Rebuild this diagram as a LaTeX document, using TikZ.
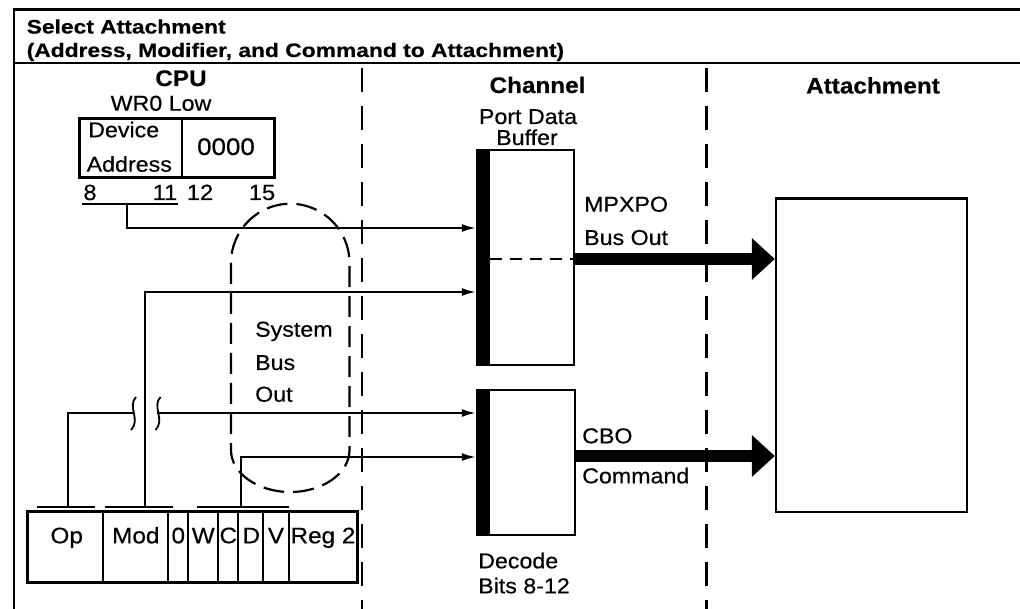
\documentclass[tikz,border=0pt]{standalone}
\usepackage{fontspec}
\setmainfont[FakeStretch=1.08, FakeBold=0.4]{Liberation Sans}
\newfontfamily\titlefont[FakeStretch=1.17, FakeBold=0.4]{Liberation Sans}
\usetikzlibrary{arrows.meta}
\begin{document}
\begin{tikzpicture}[x=1pt,y=-1pt,
  txt/.style={inner sep=0pt, anchor=base west, font=\fontsize{21.5}{24}\selectfont},
  ctxt/.style={inner sep=0pt, anchor=base, font=\fontsize{21.5}{24}\selectfont},
  hdr/.style={inner sep=0pt, anchor=base, font=\bfseries\fontsize{22.5}{24}\selectfont},
  ttl/.style={inner sep=0pt, anchor=base west, font=\titlefont\bfseries\fontsize{19.5}{22}\selectfont},
  bitlbl/.style={inner sep=0pt, anchor=base, font=\fontsize{22}{24}\selectfont},
  fldlbl/.style={inner sep=0pt, anchor=base, font=\fontsize{22.5}{24}\selectfont},
  regbox/.style={draw, line width=3pt, inner sep=0pt},
  box/.style={draw, line width=2.5pt, inner sep=0pt},
  wire/.style={line width=2pt},
  arr/.style={line width=2pt, -{Latex[length=14pt,width=8pt]}},
  bus/.style={line width=12pt, -{Triangle[length=23pt,width=42pt,line width=0pt]}},
  divider/.style={line width=2.5pt, dash pattern=on 24pt off 14pt},
  oval/.style={line width=2.2pt, dash pattern=on 21pt off 9pt},
  squig/.style={line width=1.8pt}
]
\useasboundingbox (0,0) rectangle (1020,609);

% frame
\draw[line width=2.7pt] (14,9.5) -- (1022,9.5);
\draw[line width=2pt] (14,63) -- (1022,63);
\draw[line width=2.5pt] (14,8.2) -- (14,612);

% title
\node[ttl] (t1) at (26.5,33.5) {Select Attachment};
\node[ttl] (t2) at (26.5,57) {(Address, Modifier, and Command to Attachment)};

% column dividers
\draw[divider] (362,68) -- (362,612);
\draw[divider] (706.5,68) -- (706.5,612);

% headers
\node[hdr] (hcpu) at (181,86) {CPU};
\node[hdr] (hch) at (537.5,93) {Channel};
\node[hdr] (hat) at (873,93.5) {Attachment};

% WR0 register
\node[ctxt] (wrlbl) at (161,110.7) {WR0 Low};
\node[regbox, minimum width=195pt, minimum height=59.5pt] (wr0) at (176.7,148) {};
\draw[line width=2.5pt] (182,118) -- (182,178);
\node[txt] (dev) at (88,137.3) {Device};
\node[txt] (addr) at (86.5,171.7) {Address};
\node[inner sep=0pt, anchor=base, font=\fontsize{24}{26}\selectfont] (zeros) at (226,155) {0000};
\node[bitlbl] (b8) at (90,200) {8};
\node[bitlbl] (b11) at (165,200) {11};
\node[bitlbl] (b12) at (200,200) {12};
\node[bitlbl] (b15) at (262,200) {15};
\draw[wire] (82,204) -- (178,204);
\coordinate (u1) at (127,204);

% instruction
\node[regbox, minimum width=330pt, minimum height=71pt] (instr) at (192.3,546.5) {};
\foreach \xx in {103.3,168.3,188.3,218.3,238.3,263.3,289.3}
  \draw[line width=2pt] (\xx,511) -- (\xx,582);
\node[fldlbl] (fop) at (66.7,543.3) {Op};
\node[fldlbl] (fmod) at (135.8,543.3) {Mod};
\node[fldlbl] (f0) at (178.3,543.3) {0};
\node[fldlbl] (fw) at (203.3,543.3) {W};
\node[fldlbl] (fc) at (228.3,543.3) {C};
\node[fldlbl] (fd) at (251.3,543.3) {D};
\node[fldlbl] (fv) at (276,543.3) {V};
\node[fldlbl] (freg) at (323,543.3) {Reg 2};
\draw[wire] (37,506.7) -- (95,506.7);
\draw[wire] (105,506.7) -- (173,506.7);
\draw[wire] (197,506.7) -- (289,506.7);
\coordinate (bop) at (68.3,506.7);
\coordinate (bmod) at (145,506.7);
\coordinate (bw) at (240.7,506.7);

% system bus out oval
\draw[oval] (231,263) -- (231,450) arc[start angle=180,end angle=360,x radius=59.25pt,y radius=42pt]
  -- (349.5,263) arc[start angle=0,end angle=180,radius=59.25pt] -- cycle;
\node[txt] (sys) at (255,336.7) {System};
\node[txt] (sbus) at (255,370) {Bus};
\node[txt] (sout) at (255,401.7) {Out};

% channel boxes
\node[ctxt] (pdb1) at (528,124) {Port Data};
\node[ctxt] (pdb2) at (527,145) {Buffer};
\node[box, minimum width=97pt, minimum height=215pt] (buf) at (525.5,257.5) {};
\fill (477,150) rectangle (490,365);
\draw[line width=2pt, dash pattern=on 12pt off 8pt] (490,259) -- (574,259);

\node[box, minimum width=98pt, minimum height=145pt] (dec) at (526,462.5) {};
\fill (477,390) rectangle (490,535);
\node[txt] (dc1) at (478,568.3) {Decode};
\node[txt] (dc2) at (478,593.3) {Bits 8-12};

% attachment
\node[box, minimum width=191pt, minimum height=313.5pt] (att) at (871.5,355.25) {};

% levels
\coordinate (ya) at (0,228);
\coordinate (yb) at (0,292);
\coordinate (yc) at (0,413);
\coordinate (yd) at (0,457);
\coordinate (ym) at (0,259);
\coordinate (yn) at (0,456);
\coordinate (brk1) at (132.5,413);
\coordinate (brk2) at (157,413);

% connectors
\draw[arr] (u1) |- (buf.west |- ya);
\draw[arr] (bmod) |- (buf.west |- yb);
\draw[wire] (bop) |- (brk1);
\draw[arr] (brk2) -- (dec.west |- yc);
\draw[squig] (136,397) .. controls (127,406) and (141,420) .. (131,430);
\draw[squig] (160.5,397) .. controls (151.5,406) and (165.5,420) .. (155.5,430);
\draw[arr] (bw) |- (dec.west |- yd);

\draw[bus] (buf.east |- ym) -- (att.west |- ym);
\draw[bus] (dec.east |- yn) -- (att.west |- yn);

\node[txt] (mpx1) at (584,211.7) {MPXPO};
\node[txt] (mpx2) at (584,245) {Bus Out};
\node[txt] (cbo1) at (582,443.3) {CBO};
\node[txt] (cbo2) at (582,483.3) {Command};
\end{tikzpicture}
\end{document}
